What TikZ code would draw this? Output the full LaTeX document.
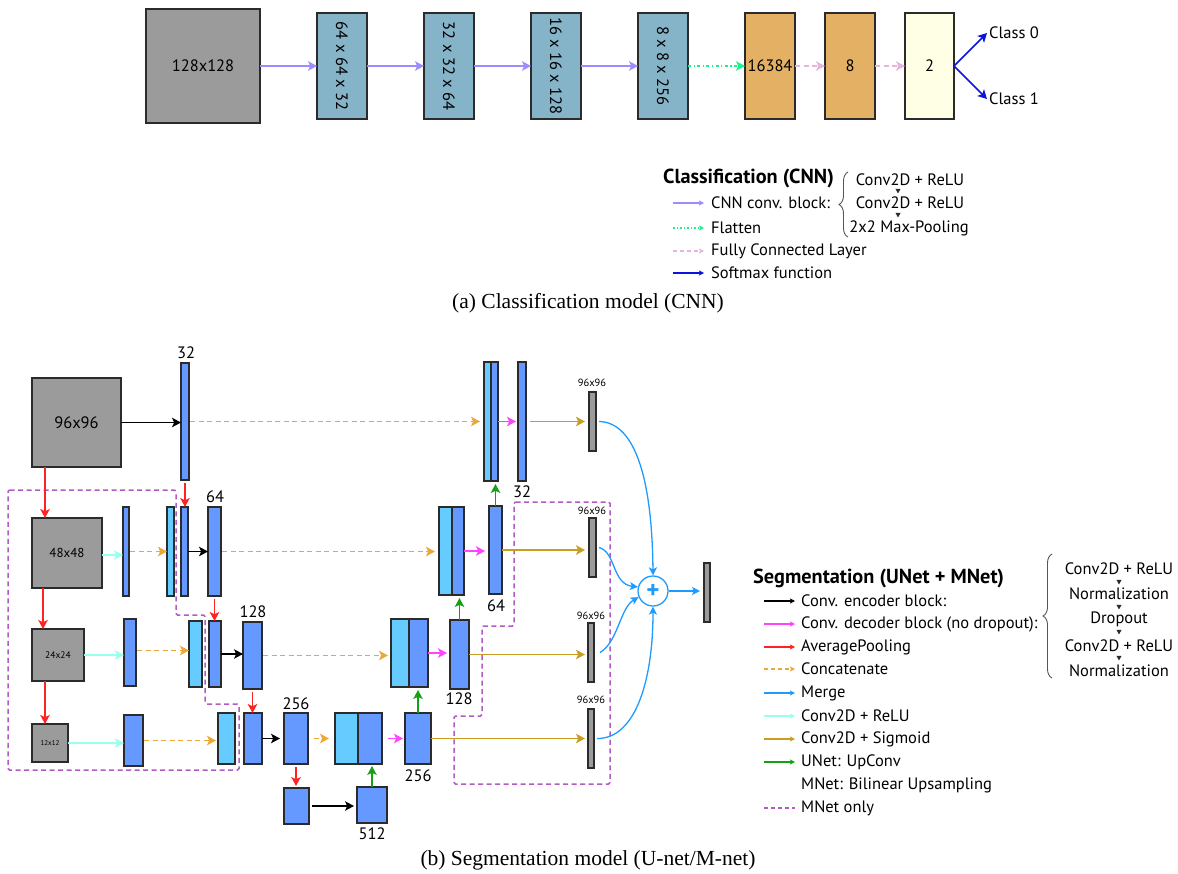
\documentclass[tikz,border=0pt]{standalone}
\usepackage{fontspec}
\setmainfont{PT Sans}
\newfontfamily\capfont{Liberation Serif}
\usetikzlibrary{arrows.meta,decorations.pathreplacing}

\definecolor{edge}{HTML}{2B2B2B}
\definecolor{boxgray}{HTML}{9B9B9B}
\definecolor{cnnblue}{HTML}{85B3C8}
\definecolor{fcorange}{HTML}{E3B064}
\definecolor{softyellow}{HTML}{FFFFE6}
\definecolor{lav}{HTML}{9C8CFF}
\definecolor{flatgreen}{HTML}{1EF08C}
\definecolor{fcpink}{HTML}{E6B4DC}
\definecolor{softmax}{HTML}{0A14DC}
\definecolor{segblue}{HTML}{6699FF}
\definecolor{segcyan}{HTML}{66CCFF}
\definecolor{decmag}{HTML}{FF44FF}
\definecolor{poolred}{HTML}{FF2222}
\definecolor{catorange}{HTML}{EBA838}
\definecolor{mergeblue}{HTML}{1E9BFF}
\definecolor{reluaqua}{HTML}{99FFEE}
\definecolor{siggold}{HTML}{C89E22}
\definecolor{upgreen}{HTML}{16A016}
\definecolor{mnetpurple}{HTML}{B05CC4}
\definecolor{bracegray}{HTML}{555555}

\newcommand\fsm{\fontsize{16.5}{19}\selectfont}
\newcommand\fsb{\fontsize{20.3}{23}\selectfont\bfseries}
\newcommand\fstiny{\fontsize{10.5}{12}\selectfont}
\newcommand\fscap{\capfont\fontsize{21.5}{24}\selectfont}

% block: name, style, x1, y1, x2, y2, text
\newcommand\mkblk[7]{%
  \node[#2, minimum width={(#5-#3)*1pt}, minimum height={(#6-#4)*1pt}]
    (#1) at ({(#3+#5)/2},{(#4+#6)/2}) {#7};}
% small downward triangle in the layer stacks
\newcommand\downtri[2]{\fill[edge] (#1-2.6,#2-2.2) -- (#1+2.6,#2-2.2) -- (#1,#2+2.4) -- cycle;}

\tikzset{
  blk/.style={draw=edge, line width=1.2pt, inner sep=0pt, outer sep=0pt},
  graybox/.style={blk, fill=boxgray},
  cnnbox/.style={blk, fill=cnnblue},
  fcbox/.style={blk, fill=fcorange},
  outbox/.style={blk, fill=softyellow},
  encbox/.style={blk, fill=segblue},
  catbox/.style={blk, fill=segcyan},
  thinbox/.style={blk, fill=boxgray, line width=1.1pt},
  headbig/.style={-{Stealth[length=9pt,width=9.5pt,inset=2.2pt]}},
  headsmall/.style={-{Stealth[length=5pt,width=5pt,inset=1pt]}},
  a-conv/.style={headbig, draw=lav, line width=1.4pt},
  a-flat/.style={headbig, draw=flatgreen, line width=1.4pt, dash pattern=on 3pt off 2.5pt on 1.2pt off 2.5pt},
  a-fc/.style={headbig, draw=fcpink, line width=1.5pt, dash pattern=on 5pt off 3.5pt},
  a-soft/.style={headbig, draw=softmax, line width=1.5pt},
  a-enc/.style={headbig, draw=black, line width=1.4pt},
  a-dec/.style={headbig, draw=decmag, line width=1.5pt},
  a-pool/.style={headbig, draw=poolred, line width=1.4pt},
  a-cat/.style={headbig, draw=catorange, line width=1.6pt, dash pattern=on 5pt off 3.5pt},
  a-merge/.style={-{Stealth[length=8pt,width=8pt,inset=2pt]}, draw=mergeblue, line width=1.3pt},
  a-relu/.style={headbig, draw=reluaqua, line width=1.6pt},
  a-sig/.style={headbig, draw=siggold, line width=1.5pt},
  a-up/.style={headbig, draw=upgreen, line width=1.5pt},
  mnet/.style={draw=mnetpurple, line width=1.5pt, dash pattern=on 5pt off 3.5pt, rounded corners=1.5pt},
  num/.style={font=\fsm, inner sep=0pt},
  res/.style={font=\fstiny, inner sep=0pt},
  key/.style={anchor=west, font=\fsm, inner sep=0pt},
  stk/.style={font=\fsm, inner sep=0pt},
  brc/.style={draw=bracegray, line width=0.9pt, decorate, decoration={brace, amplitude=9pt, aspect=0.5}},
}

\begin{document}
\begin{tikzpicture}[x=1pt, y=-1pt]
\useasboundingbox (0,0) rectangle (1178,873);

% ---------------- Classification network ----------------
\mkblk{c0}{graybox}{146}{9}{260}{123}{\fsm 128x128}
\mkblk{c1}{cnnbox}{317}{13}{367}{119}{}
\mkblk{c2}{cnnbox}{424}{13}{474}{119}{}
\mkblk{c3}{cnnbox}{531}{13}{581}{119}{}
\mkblk{c4}{cnnbox}{638}{13}{688}{119}{}
\node[rotate=-90, font=\fsm] (t1) at (c1) {64 x 64 x 32};
\node[rotate=-90, font=\fsm] (t2) at (c2) {32 x 32 x 64};
\node[rotate=-90, font=\fsm] (t3) at (c3) {16 x 16 x 128};
\node[rotate=-90, font=\fsm] (t4) at (c4) {8 x 8 x 256};
\mkblk{f1}{fcbox}{745}{13}{795}{119}{\fsm 16384}
\mkblk{f2}{fcbox}{825}{13}{875}{119}{\fsm 8}
\mkblk{f3}{outbox}{905}{13}{954}{119}{\fsm 2}
\node[key, inner sep=2pt] (cl0) at (987,33) {Class 0};
\node[key, inner sep=2pt] (cl1) at (987,99) {Class 1};

\draw[a-conv] (c0) -- (c1);
\draw[a-conv] (c1) -- (c2);
\draw[a-conv] (c2) -- (c3);
\draw[a-conv] (c3) -- (c4);
\draw[a-flat] (c4) -- (f1);
\draw[a-fc] (f1) -- (f2);
\draw[a-fc] (f2) -- (f3);
\draw[a-soft] (f3.east) -- (cl0.west);
\draw[a-soft] (f3.east) -- (cl1.west);

% legend of the classification network
\node[anchor=west, font=\fsb, inner sep=0pt] (cnnhead) at (663,178) {Classification (CNN)};
\coordinate (ks1) at (673,203);
\coordinate (ks2) at (673,228);
\coordinate (ks3) at (673,251);
\coordinate (ks4) at (673,273);
\node[key] (kt1) at (711,203) {CNN conv. block:};
\node[key] (kt2) at (711,228) {Flatten};
\node[key] (kt3) at (711,251) {Fully Connected Layer};
\node[key] (kt4) at (711,273) {Softmax function};
\draw[headsmall, draw=lav, line width=1.2pt] (ks1) -- ([xshift=-7pt]kt1.west);
\draw[headsmall, draw=flatgreen, line width=1.2pt, dash pattern=on 2pt off 2pt on 1pt off 2pt] (ks2) -- ([xshift=-7pt]kt2.west);
\draw[headsmall, draw=fcpink, line width=1.2pt, dash pattern=on 4pt off 3pt] (ks3) -- ([xshift=-7pt]kt3.west);
\draw[headsmall, draw=softmax, line width=1.2pt] (ks4) -- ([xshift=-7pt]kt4.west);
\draw[brc] (848,237) -- (848,172);
\node[stk] (cs1) at (910,180) {Conv2D + ReLU};
\node[stk] (cs2) at (910,203) {Conv2D + ReLU};
\node[stk] (cs3) at (909,228) {2x2 Max-Pooling};
\downtri{898}{191}
\downtri{898}{215}

\node[font=\fscap] (capa) at (588,303) {(a) Classification model (CNN)};

% ---------------- Segmentation network ----------------
% MNet-only regions
\draw[mnet] (8,490) -- (176,490) -- (176,615) -- (205,615) -- (205,704) -- (239,704)
  -- (239,770) -- (8,770) -- cycle;
\draw[mnet] (514,502) -- (610,502) -- (610,784) -- (454,784) -- (454,716) -- (482,716)
  -- (482,626) -- (514,626) -- cycle;

% level 1
\mkblk{in1}{graybox}{32}{378}{121}{467}{\fsm 96x96}
\mkblk{e1}{encbox}{181}{363}{189}{480}{}
\mkblk{d1c}{catbox}{484}{362}{491}{481}{}
\mkblk{d1b}{encbox}{491}{362}{498}{481}{}
\mkblk{d1}{encbox}{518}{362}{526}{481}{}
\mkblk{o1}{thinbox}{589}{392}{596}{451}{}
\node[num] (n-e1) at (186,353) {32};
\node[num] (n-d1) at (522,492) {32};
\node[res] (r1) at (592,383) {96x96};

% level 2
\mkblk{in2}{graybox}{32}{518}{102}{588}{\fontsize{13}{15}\selectfont 48x48}
\mkblk{p2}{encbox}{123}{507}{129}{596}{}
\mkblk{m2c}{catbox}{167}{507}{174}{596}{}
\mkblk{m2}{encbox}{181}{507}{188}{596}{}
\mkblk{e2}{encbox}{208}{507}{221}{596}{}
\mkblk{d2c}{catbox}{439}{507}{452}{595}{}
\mkblk{d2b}{encbox}{452}{507}{464}{595}{}
\mkblk{d2}{encbox}{489}{506}{502}{594}{}
\mkblk{o2}{thinbox}{589}{518}{596}{577}{}
\node[num] (n-e2) at (215,497) {64};
\node[num] (n-d2) at (496,606) {64};
\node[res] (r2) at (592,511) {96x96};

% level 3
\mkblk{in3}{graybox}{32}{629}{84}{681}{\fontsize{9.5}{11}\selectfont 24x24}
\mkblk{p3}{encbox}{124}{619}{136}{686}{}
\mkblk{m3c}{catbox}{189}{621}{202}{687}{}
\mkblk{m3}{encbox}{209}{621}{221}{687}{}
\mkblk{e3}{encbox}{243}{622}{262}{689}{}
\mkblk{d3c}{catbox}{391}{619}{409}{687}{}
\mkblk{d3b}{encbox}{409}{619}{428}{687}{}
\mkblk{d3}{encbox}{450}{620}{469}{689}{}
\mkblk{o3}{thinbox}{588}{623}{594}{682}{}
\node[num] (n-e3) at (253,612) {128};
\node[num] (n-d3) at (459,699) {128};
\node[res] (r3) at (591,616) {96x96};

% level 4
\mkblk{in4}{graybox}{32}{724}{68}{762}{\fontsize{7}{8}\selectfont 12x12}
\mkblk{p4}{encbox}{124}{715}{143}{766}{}
\mkblk{m4c}{catbox}{218}{713}{235}{764}{}
\mkblk{m4}{encbox}{244}{713}{262}{764}{}
\mkblk{e4}{encbox}{284}{713}{308}{764}{}
\mkblk{d4c}{catbox}{335}{713}{358}{764}{}
\mkblk{d4b}{encbox}{358}{713}{382}{764}{}
\mkblk{d4}{encbox}{405}{713}{431}{764}{}
\mkblk{o4}{thinbox}{588}{709}{594}{768}{}
\node[num] (n-e4) at (296,704) {256};
\node[num] (n-d4) at (418,776) {256};
\node[res] (r4) at (591,700) {96x96};

% bottleneck
\mkblk{b5}{encbox}{284}{788}{309}{824}{}
\mkblk{u5}{encbox}{357}{787}{387}{823}{}
\node[num] (n-u5) at (372,834) {512};

% merge and output
\node[circle, draw=mergeblue, line width=1.3pt, minimum size=30pt, inner sep=0pt,
  text=mergeblue, font=\fontsize{25}{25}\selectfont\bfseries] (mg) at (653,591) {+};
\mkblk{out}{thinbox}{704}{563}{710}{622}{}

% encoder path
\draw[a-enc] (in1.east) -- (in1.east -| e1.west);
\draw[a-pool] ([xshift=13pt]in1.south west) -- ([xshift=13pt]in2.north west);
\draw[a-pool] ([xshift=11pt]in2.south west) -- ([xshift=11pt]in3.north west);
\draw[a-pool] ([xshift=13pt]in3.south west) -- ([xshift=13pt]in4.north west);
\draw[a-relu] ([yshift=-2pt]in2.east) -- ([yshift=-2pt]in2.east -| p2.west);
\draw[a-relu] (in3.east) -- (in3.east -| p3.west);
\draw[a-relu] (in4.east) -- (in4.east -| p4.west);
\draw[a-cat, shorten <=1pt] (p2.east) -- (p2.east -| m2c.west);
\draw[a-cat, shorten <=1pt] ([yshift=2pt]p3.east) -- ([yshift=2pt]p3.east -| m3c.west);
\draw[a-cat, shorten <=1pt, shorten >=2pt] (p4.east) -- (p4.east -| m4c.west);
\draw[a-pool, shorten <=3pt] (e1.south) -- (e1.south |- m2.north);
\draw[a-pool, shorten <=3pt] (e2.south) -- (e2.south |- m3.north);
\draw[a-pool, shorten <=3pt] (e3.south) -- (e3.south |- m4.north);
\draw[a-pool, shorten <=3pt, shorten >=2pt] (e4.south) -- (e4.south |- b5.north);
\draw[a-enc] (m2.east) -- (m2.east -| e2.west);
\draw[a-enc] (m3.east) -- (m3.east -| e3.west);
\draw[a-enc, shorten >=4pt] (m4.east) -- (m4.east -| e4.west);
\draw[a-enc, shorten <=3pt, shorten >=3pt] (b5.east) -- (b5.east -| u5.west);

% skip connections
\draw[a-cat, shorten <=1pt, shorten >=4pt] (e1.east) -- (e1.east -| d1c.west);
\draw[a-cat, shorten <=1pt, shorten >=4pt] (e2.east) -- (e2.east -| d2c.west);
\draw[a-cat, shorten <=1pt, shorten >=3pt] (e3.east) -- (e3.east -| d3c.west);
\draw[a-cat, shorten <=6pt, shorten >=6pt] (e4.east) -- (e4.east -| d4c.west);

% decoder path
\draw[a-dec, shorten >=2pt] (d1b.east) -- (d1b.east -| d1.west);
\draw[a-dec, shorten >=4pt] (d2b.east) -- (d2b.east -| d2.west);
\draw[a-dec, shorten >=3pt] (d3b.east) -- (d3b.east -| d3.west);
\draw[a-dec, shorten <=6pt, shorten >=2pt] (d4b.east) -- (d4b.east -| d4.west);
\draw[a-up, shorten >=3pt] (d2.north) -- (d2.north |- d1b.south);
\draw[a-up, shorten >=3pt] (d3.north) -- (d3.north |- d2b.south);
\draw[a-up, shorten >=3pt] (d4.north) -- (d4.north |- d3b.south);
\draw[a-up, shorten >=2pt] (u5.north) -- (u5.north |- d4b.south);

% output heads
\draw[a-sig, shorten <=4pt, shorten >=4pt] (d1.east) -- (d1.east -| o1.west);
\draw[a-sig, shorten >=4pt] (d2.east) -- (d2.east -| o2.west);
\draw[a-sig, shorten >=3pt] (d3.east) -- (d3.east -| o3.west);
\draw[a-sig, shorten >=3pt] (d4.east) -- (d4.east -| o4.west);

% merge
\draw[a-merge] ([xshift=3pt]o1.east) .. controls (632,422) and (652,470) .. (mg.north);
\draw[a-merge] ([xshift=3pt]o2.east) .. controls (616,552) and (612,584) .. (mg.165);
\draw[a-merge] ([xshift=6pt]o3.east) .. controls (618,642) and (620,608) .. (mg.203);
\draw[a-merge] ([xshift=3pt]o4.east) .. controls (634,739) and (653,684) .. (mg.south);
\draw[a-merge, shorten >=4pt] (mg.east) -- (mg.east -| out.west);

% legend of the segmentation network
\node[anchor=west, font=\fsb, inner sep=0pt] (seghead) at (753,578) {Segmentation (UNet + MNet)};
\coordinate (ls1) at (764,601);
\coordinate (ls2) at (764,624);
\coordinate (ls3) at (764,647);
\coordinate (ls4) at (764,669);
\coordinate (ls5) at (764,693);
\coordinate (ls6) at (764,716);
\coordinate (ls7) at (764,739);
\coordinate (ls8) at (764,762);
\coordinate (ls10) at (764,808);
\node[key] (lt1) at (801,601) {Conv. encoder block:};
\node[key] (lt2) at (801,624) {Conv. decoder block (no dropout):};
\node[key] (lt3) at (801,647) {AveragePooling};
\node[key] (lt4) at (801,669) {Concatenate};
\node[key] (lt5) at (801,693) {Merge};
\node[key] (lt6) at (801,716) {Conv2D + ReLU};
\node[key] (lt7) at (801,739) {Conv2D + Sigmoid};
\node[key] (lt8) at (801,762) {UNet: UpConv};
\node[key] (lt9) at (801,785) {MNet: Bilinear Upsampling};
\node[key] (lt10) at (801,808) {MNet only};
\draw[headsmall, draw=black, line width=1.2pt] (ls1) -- ([xshift=-6pt]lt1.west);
\draw[headsmall, draw=decmag, line width=1.2pt] (ls2) -- ([xshift=-6pt]lt2.west);
\draw[headsmall, draw=poolred, line width=1.2pt] (ls3) -- ([xshift=-6pt]lt3.west);
\draw[headsmall, draw=catorange, line width=1.2pt, dash pattern=on 4pt off 3pt] (ls4) -- ([xshift=-6pt]lt4.west);
\draw[headsmall, draw=mergeblue, line width=1.2pt] (ls5) -- ([xshift=-6pt]lt5.west);
\draw[headsmall, draw=reluaqua, line width=1.3pt] (ls6) -- ([xshift=-6pt]lt6.west);
\draw[headsmall, draw=siggold, line width=1.2pt] (ls7) -- ([xshift=-6pt]lt7.west);
\draw[headsmall, draw=upgreen, line width=1.2pt] (ls8) -- ([xshift=-6pt]lt8.west);
\draw[draw=mnetpurple, line width=1.2pt, dash pattern=on 4pt off 3pt] (ls10) -- ([xshift=-6pt]lt10.west);
\draw[brc] (1052,678) -- (1052,554);
\node[stk] (ss1) at (1119,569) {Conv2D + ReLU};
\node[stk] (ss2) at (1119,594) {Normalization};
\node[stk] (ss3) at (1119,619) {Dropout};
\node[stk] (ss4) at (1119,646) {Conv2D + ReLU};
\node[stk] (ss5) at (1119,671) {Normalization};
\downtri{1119}{582}
\downtri{1119}{607}
\downtri{1119}{632}
\downtri{1119}{658}

\node[font=\fscap] (capb) at (588,860) {(b) Segmentation model (U-net/M-net)};
\end{tikzpicture}
\end{document}
